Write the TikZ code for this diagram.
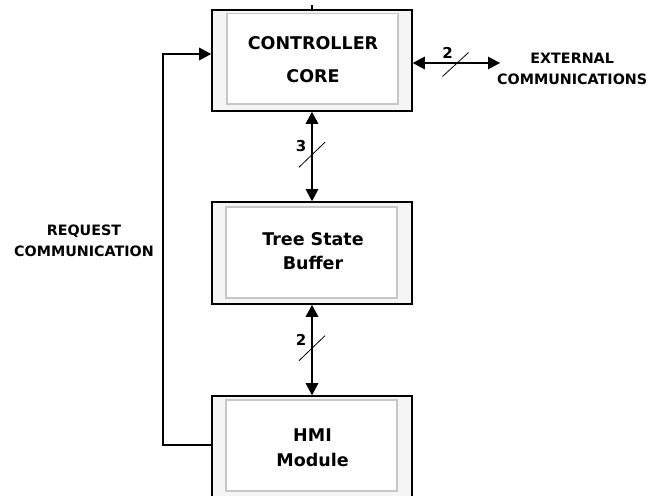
\documentclass[tikz,border=0pt]{standalone}
\usepackage{fontspec}
\setmainfont{DejaVu Sans}
\usetikzlibrary{arrows.meta,calc}

\tikzset{
  outerbox/.style={draw=black, line width=1.6pt, fill=black!4, inner sep=0pt,
                   minimum width=200pt},
  innerbox/.style={draw=black!22, line width=1.2pt, fill=white, inner sep=0pt,
                   minimum width=171pt, minimum height=91pt},
  boxtext/.style={font=\fontsize{17.5}{24.5}\bfseries\selectfont, align=center, inner sep=0pt},
  lbltext/.style={font=\fontsize{14.3}{21}\bfseries\selectfont, align=center, inner sep=0pt},
  head/.style={Triangle[length=12pt,width=12.5pt]},
  bus/.style={line width=1.4pt, {Triangle[length=12pt,width=12.5pt]}-{Triangle[length=12pt,width=12.5pt]}},
  wire/.style={line width=1.4pt},
  slash/.style={line width=0.8pt},
  buswidth/.style={font=\fontsize{15}{17}\bfseries\selectfont, inner sep=0pt}
}

\begin{document}
\begin{tikzpicture}[x=1pt, y=-1pt]
  \useasboundingbox (0,0) rectangle (652,495);
  \clip (0,0) rectangle (652,495);

  % controller core
  \node[outerbox, minimum height=101pt] (ctrl) at (312,60.5) {};
  \node[innerbox, minimum height=90.5pt] (ctrlin) at (312.5,58.75) {};
  \node[boxtext] (ctrltxt) at (313,60) {CONTROLLER\\[8.5pt]CORE};

  % tree state buffer
  \node[outerbox, minimum height=102pt] (buf) at (312,253) {};
  \node[innerbox] (bufin) at (311.5,252.5) {};
  \node[boxtext] (buftxt) at (313,251) {Tree State\\Buffer};

  % HMI module (runs past the lower edge)
  \node[outerbox, minimum height=124pt] (hmi) at (312,458) {};
  \node[innerbox] (hmiin) at (311.5,445.5) {};
  \node[boxtext] (hmitxt) at (312.5,447.5) {HMI\\Module};

  % stub above the controller
  \coordinate (stub) at (312,5);
  \draw[wire] (stub) -- (ctrl.north);

  % controller <-> buffer, 3 lines
  \draw[bus] (ctrl.south) -- (buf.north);
  \coordinate (m1) at ($(ctrl.south)!0.48!(buf.north)$);
  \draw[slash] ($(m1)+(-13,12.5)$) -- ($(m1)+(13,-12.5)$);
  \node[buswidth] (w1) at ($(m1)+(-11,-9)$) {3};

  % buffer <-> HMI, 2 lines
  \draw[bus] (buf.south) -- (hmi.north);
  \coordinate (m2) at ($(buf.south)!0.48!(hmi.north)$);
  \draw[slash] ($(m2)+(-13,12.5)$) -- ($(m2)+(13,-12.5)$);
  \node[buswidth] (w2) at ($(m2)+(-11,-8)$) {2};

  % external communications, 2 lines
  \coordinate (ext) at (500,63);
  \draw[bus] (ctrl.east |- ext) -- (ext);
  \coordinate (m3) at (455.5,64.5);
  \draw[slash] ($(m3)+(-13,12)$) -- ($(m3)+(13,-12)$);
  \node[buswidth] (w3) at (447.5,53) {2};
  \node[lbltext, anchor=west] (exttxt) at (497,69) {EXTERNAL\\COMMUNICATIONS};

  % request communication path from HMI back to controller
  \coordinate (c1) at (163,445);
  \coordinate (c2) at (163,54);
  \draw[wire, -{Triangle[length=12pt,width=12.5pt]}]
    (hmi.west |- c1) -- (c1) -- (c2) -- (ctrl.west |- c2);
  \node[lbltext] (reqtxt) at (84,241) {REQUEST\\COMMUNICATION};
\end{tikzpicture}
\end{document}
